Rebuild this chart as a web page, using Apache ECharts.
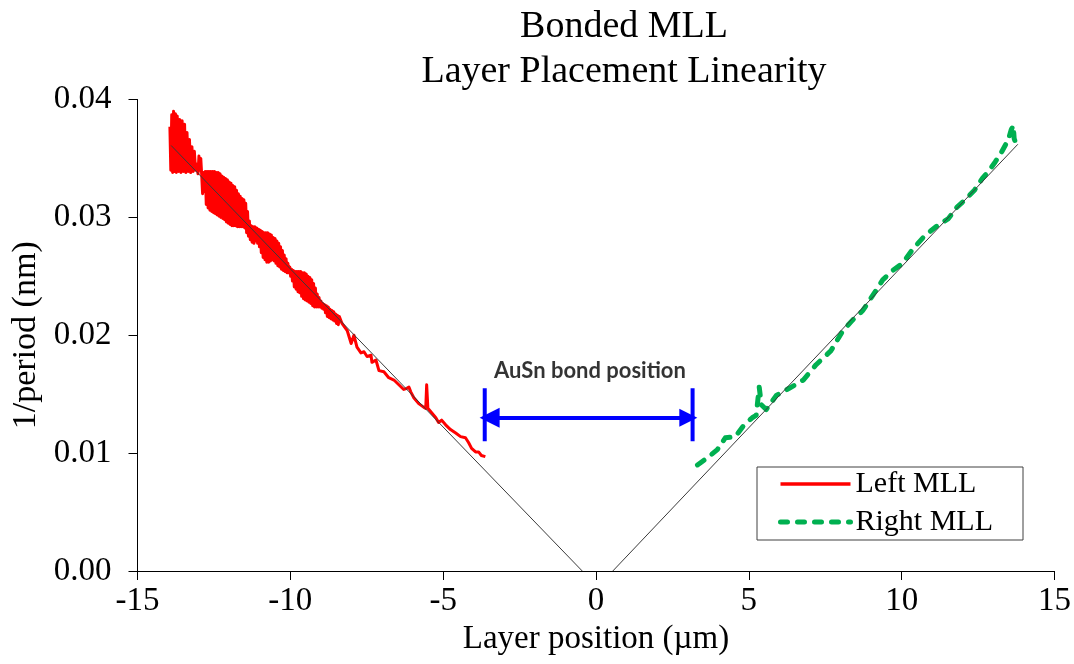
<!DOCTYPE html>
<html>
<head>
<meta charset="utf-8">
<script src="https://cdn.jsdelivr.net/npm/echarts@6/dist/echarts.min.js"></script>
<style>
  html, body { margin: 0; padding: 0; background: #ffffff; }
  #chart { width: 1074px; height: 664px; }
</style>
</head>
<body>
<div id="chart"></div>
<script>
// Measured 1/period along the left multilayer Laue lens (x in µm, y in 1/nm)
const leftMLL = [
  [-13.94,0.0377],[-13.91,0.0340],[-13.88,0.0387],[-13.85,0.0338],[-13.82,0.0390],[-13.79,0.0339],
  [-13.76,0.0388],[-13.73,0.0338],[-13.70,0.0386],[-13.66,0.0339],[-13.62,0.0383],[-13.58,0.0338],
  [-13.54,0.0382],[-13.50,0.0339],[-13.46,0.0379],[-13.42,0.0338],[-13.38,0.0372],[-13.34,0.0339],
  [-13.30,0.0366],[-13.26,0.0338],[-13.22,0.0360],[-13.18,0.0339],[-13.14,0.0356],[-13.10,0.0340],
  [-13.06,0.0345],[-13.02,0.0337],[-12.99,0.0352],[-12.96,0.0340],[-12.93,0.0350],[-12.90,0.0336],
  [-12.87,0.0320],[-12.84,0.0338],[-12.81,0.0322],[-12.78,0.0339],[-12.75,0.0311],[-12.72,0.0339],
  [-12.69,0.0308],[-12.66,0.0339],[-12.63,0.0306],[-12.60,0.0339],[-12.57,0.0305],[-12.54,0.0339],
  [-12.51,0.0304],[-12.48,0.0339],[-12.45,0.0303],[-12.42,0.0338],[-12.39,0.0302],[-12.36,0.0338],
  [-12.33,0.0301],[-12.30,0.0337],[-12.27,0.0300],[-12.24,0.0335],[-12.21,0.0299],[-12.18,0.0334],
  [-12.15,0.0298],[-12.12,0.0333],[-12.09,0.0296],[-12.06,0.0332],[-12.03,0.0295],[-12.00,0.0330],
  [-11.97,0.0294],[-11.94,0.0329],[-11.91,0.0293],[-11.88,0.0327],[-11.85,0.0293],[-11.82,0.0326],
  [-11.79,0.0293],[-11.76,0.0323],[-11.73,0.0292],[-11.70,0.0320],[-11.67,0.0292],[-11.64,0.0318],
  [-11.61,0.0292],[-11.58,0.0316],[-11.55,0.0292],[-11.52,0.0315],[-11.49,0.0291],[-11.46,0.0312],
  [-11.43,0.0287],[-11.40,0.0305],[-11.37,0.0284],[-11.34,0.0297],[-11.31,0.0281],[-11.28,0.0293],
  [-11.25,0.0279],[-11.22,0.0292],[-11.19,0.0278],[-11.16,0.0292],[-11.13,0.0280],[-11.10,0.0291],
  [-11.07,0.0278],[-11.04,0.0290],[-11.01,0.0275],[-10.98,0.0289],[-10.95,0.0270],[-10.92,0.0288],
  [-10.89,0.0266],[-10.86,0.0287],[-10.83,0.0264],[-10.80,0.0287],[-10.77,0.0262],[-10.74,0.0287],
  [-10.71,0.0262],[-10.68,0.0286],[-10.65,0.0263],[-10.62,0.0285],[-10.59,0.0264],[-10.56,0.0283],
  [-10.53,0.0263],[-10.50,0.0282],[-10.47,0.0261],[-10.44,0.0280],[-10.41,0.0259],[-10.38,0.0278],
  [-10.35,0.0258],[-10.32,0.0275],[-10.29,0.0256],[-10.26,0.0272],[-10.23,0.0255],[-10.20,0.0268],
  [-10.17,0.0254],[-10.14,0.0265],[-10.11,0.0253],[-10.08,0.0261],[-10.05,0.0253],[-10.02,0.0258],
  [-9.99,0.0250],[-9.96,0.0256],[-9.93,0.0246],[-9.90,0.0255],[-9.87,0.0241],[-9.84,0.0254],
  [-9.81,0.0239],[-9.78,0.0254],[-9.75,0.0237],[-9.72,0.0254],[-9.69,0.0236],[-9.66,0.0254],
  [-9.63,0.0233],[-9.60,0.0253],[-9.57,0.0231],[-9.54,0.0253],[-9.51,0.0230],[-9.48,0.0252],
  [-9.45,0.0229],[-9.42,0.0250],[-9.39,0.0228],[-9.36,0.0249],[-9.33,0.0227],[-9.30,0.0247],
  [-9.27,0.0225],[-9.24,0.0244],[-9.21,0.0224],[-9.18,0.0240],[-9.15,0.0224],[-9.12,0.0235],
  [-9.09,0.0224],[-9.06,0.0232],[-9.03,0.0224],[-9.00,0.0229],[-8.97,0.0223],[-8.94,0.0227],
  [-8.91,0.0222],[-8.88,0.0226],[-8.85,0.0219],[-8.82,0.0225],[-8.79,0.0216],[-8.76,0.0224],
  [-8.73,0.0215],[-8.70,0.0222],[-8.67,0.0214],[-8.64,0.0221],[-8.61,0.0213],[-8.58,0.0220],
  [-8.55,0.0212],[-8.52,0.0218],[-8.49,0.0210],[-8.46,0.0217],[-8.43,0.0209],[-8.40,0.0216],
  [-8.31,0.0210],[-8.14,0.0204],[-8.01,0.0193],[-7.92,0.0200],[-7.82,0.0190],[-7.69,0.0185],
  [-7.59,0.0186],[-7.49,0.0182],[-7.36,0.0183],[-7.33,0.0177],[-7.20,0.0179],[-7.10,0.0170],
  [-6.94,0.0169],[-6.78,0.0164],[-6.61,0.0162],[-6.45,0.0158],[-6.29,0.0154],[-6.19,0.0155],
  [-6.12,0.0156],[-6.06,0.0152],[-5.96,0.0147],[-5.80,0.0142],[-5.64,0.0139],[-5.57,0.0138],
  [-5.54,0.0158],[-5.50,0.0138],[-5.37,0.0134],[-5.24,0.0130],[-5.15,0.0126],[-5.05,0.0128],
  [-4.92,0.0124],[-4.76,0.0120],[-4.59,0.0117],[-4.43,0.0114],[-4.27,0.0113],[-4.17,0.0109],
  [-4.07,0.0104],[-3.94,0.0101],[-3.84,0.0101],[-3.75,0.0098],[-3.62,0.0097]
];

// Measured 1/period along the right lens
const rightMLL = [
  [3.32,0.0090],[3.64,0.0096],[3.97,0.0103],[4.23,0.0113],[4.56,0.0114],[4.85,0.0124],
  [5.11,0.0130],[5.24,0.0132],[5.34,0.0156],[5.41,0.0141],[5.57,0.0137],[5.90,0.0149],
  [6.32,0.0155],[6.78,0.0162],[7.04,0.0170],[7.20,0.0175],[7.69,0.0187],[8.08,0.0204],
  [8.40,0.0213],[8.73,0.0221],[9.06,0.0234],[9.38,0.0247],[9.71,0.0255],[10.03,0.0261],
  [10.39,0.0274],[10.78,0.0285],[11.17,0.0293],[11.53,0.0299],[11.82,0.0309],[12.08,0.0315],
  [12.38,0.0323],[12.64,0.0333],[12.87,0.0340],[13.06,0.0347],[13.26,0.0355],[13.49,0.0366],
  [13.58,0.0374],[13.65,0.0378],[13.68,0.0367],[13.78,0.0359]
];

// Linear fits through each data set, meeting the axis near zero
const leftFit  = [[-13.90, 0.0361], [-0.45, 0]];
const rightFit = [[0.55, 0], [13.80, 0.0362]];

// Bond region marker
const bondLeftBar  = [[-3.64, 0.0110], [-3.64, 0.0155]];
const bondRightBar = [[3.16, 0.0110], [3.16, 0.0155]];
const bondArrow    = [[-3.48, 0.0130], [3.02, 0.0130]];
const bondLabel    = [[-0.2, 0.0170]];

const xTicks = { min: -15, max: 15, interval: 5 };
const yTicks = { min: 0, max: 0.04, interval: 0.01 };

const SERIF = 'Liberation Serif';
const chart = echarts.init(document.getElementById('chart'), null, { renderer: 'canvas' });

chart.setOption({
  backgroundColor: '#ffffff',
  animation: false,
  title: {
    text: 'Bonded MLL\nLayer Placement Linearity',
    left: 619, top: 0, textAlign: 'center',
    textStyle: { fontFamily: SERIF, fontSize: 38, fontWeight: 'normal', color: '#000', lineHeight: 45 }
  },
  legend: {
    data: [
      { name: 'Left MLL', itemStyle: { opacity: 0 },
        lineStyle: { color: '#ff0000', width: 3.5, type: 'solid' } },
      { name: 'Right MLL', itemStyle: { opacity: 0 },
        lineStyle: { color: '#00b050', width: 5, type: [7, 10], cap: 'round' } }
    ],
    orient: 'vertical',
    left: 757, top: 467,
    padding: [2, 30, 3, 21],
    itemGap: 8,
    itemWidth: 70, itemHeight: 14,
    borderColor: '#404040', borderWidth: 1,
    backgroundColor: '#ffffff',
    textStyle: { fontFamily: SERIF, fontSize: 30, color: '#000', lineHeight: 30 }
  },
  grid: { left: 137.5, right: 14, top: 99.5, bottom: 93 },
  xAxis: {
    type: 'value', min: xTicks.min, max: xTicks.max, interval: xTicks.interval,
    name: 'Layer position (µm)', nameLocation: 'middle', nameGap: 52,
    nameTextStyle: { fontFamily: SERIF, fontSize: 33, color: '#000' },
    axisLine: { onZero: false, lineStyle: { color: '#000', width: 1 } },
    axisTick: { inside: false, length: 9, lineStyle: { color: '#000' } },
    axisLabel: { fontFamily: SERIF, fontSize: 33, color: '#000', margin: 14 },
    splitLine: { show: false }
  },
  yAxis: {
    type: 'value', min: yTicks.min, max: yTicks.max, interval: yTicks.interval,
    name: '1/period (nm)', nameLocation: 'middle', nameGap: 92, nameRotate: 90,
    nameTextStyle: { fontFamily: SERIF, fontSize: 34, color: '#000' },
    axisLine: { show: true, onZero: false, lineStyle: { color: '#000', width: 1 } },
    axisTick: { show: true, inside: false, length: 9, lineStyle: { color: '#000' } },
    axisLabel: { fontFamily: SERIF, fontSize: 33, color: '#000', margin: 26,
                 formatter: v => v.toFixed(2) },
    splitLine: { show: false }
  },
  series: [
    {
      name: 'Left MLL', type: 'line', data: leftMLL, symbol: 'none', z: 3,
      lineStyle: { color: '#ff0000', width: 3, join: 'round' },
      itemStyle: { color: '#ff0000' }
    },
    {
      name: 'Right MLL', type: 'line', data: rightMLL, symbol: 'none', z: 3,
      lineStyle: { color: '#00b050', width: 5, type: [8, 10], cap: 'round', join: 'round' },
      itemStyle: { color: '#00b050' }
    },
    {
      name: 'leftFit', type: 'line', data: leftFit, symbol: 'none', z: 4,
      lineStyle: { color: '#3a3a3a', width: 1 }
    },
    {
      name: 'rightFit', type: 'line', data: rightFit, symbol: 'none', z: 4,
      lineStyle: { color: '#3a3a3a', width: 1 }
    },
    {
      name: 'bondLeft', type: 'line', data: bondLeftBar, symbol: 'none',
      lineStyle: { color: '#0000ff', width: 4 }
    },
    {
      name: 'bondRight', type: 'line', data: bondRightBar, symbol: 'none',
      lineStyle: { color: '#0000ff', width: 4 }
    },
    {
      name: 'bondArrow', type: 'lines', coordinateSystem: 'cartesian2d', z: 5,
      data: [{ coords: bondArrow }],
      symbol: ['triangle', 'triangle'], symbolSize: [20, 18],
      lineStyle: { color: '#0000ff', width: 4, opacity: 1 },
      itemStyle: { color: '#0000ff' }
    },
    {
      name: 'bondText', type: 'scatter', data: bondLabel, symbolSize: 0,
      label: {
        show: true, position: 'inside', formatter: 'AuSn bond position',
        fontFamily: 'Lato', fontWeight: 'bold', fontSize: 22, color: '#000'
      }
    }
  ]
});
</script>
</body>
</html>
